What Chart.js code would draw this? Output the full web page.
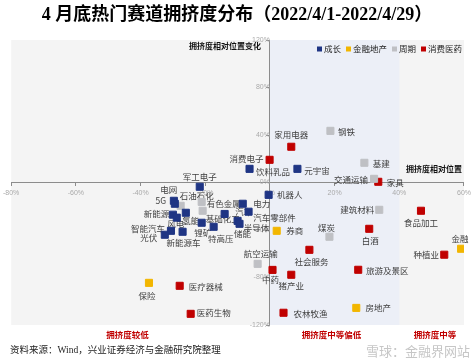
<!DOCTYPE html>
<html>
<head>
<meta charset="utf-8">
<script src="https://cdn.jsdelivr.net/npm/chart.js@4"></script>
<style>
  html, body { margin: 0; padding: 0; background: #fff; }
  #wrap { width: 474px; height: 362px; }
</style>
</head>
<body>
<div id="wrap"><canvas id="crowdChart"></canvas></div>
<script>
// 成长
const growthNames = ['元宇宙', '饮料乳品', '机器人', '军工电子', '电网', '5G', '新能源', '风电', '氢能', '锂矿',
    '特高压', '汽车', '半导体', '储能', '电力', '汽车零部件', '智能汽车', '光伏', '新能源车'];
const growthX = [8.5, -6.3, -0.4, -21.7, -29.7, -29.4, -30.0, -28.8, -26.0, -21.1,
    -17.4, -14.0, -10.0, -9.4, -8.4, -6.6, -30.6, -32.5, -27.0];
const growthY = [11.5, 11.5, -10.4, -3.6, -15.4, -17.9, -27.1, -29.6, -25.5, -33.9,
    -37.3, -26.5, -32.3, -34.8, -17.9, -24.6, -40.7, -44.0, -41.5];

// 金融地产
const financeNames = ['券商', '金融', '房地产', '保险'];
const financeX = [2.1, 59.1, 26.7, -37.4];
const financeY = [-40.7, -55.8, -105.6, -84.5];

// 周期
const cycleNames = ['钢铁', '基建', '交通运输', '建筑材料', '煤炭', '航空运输', '石油石化', '有色金属', '基础化工'];
const cycleX = [18.7, 29.2, 32.2, 33.8, 18.4, -3.8, -27.6, -21.1, -20.8];
const cycleY = [43.5, 16.6, 3.1, -23.0, -45.7, -68.5, -19.6, -16.3, -23.8];

// 消费医药
const consumerNames = ['家用电器', '消费电子', '家具', '食品加工', '白酒', '种植业', '社会服务', '中药',
    '旅游及景区', '猪产业', '农林牧渔', '医疗器械', '医药生物'];
const consumerX = [6.6, -0.1, 33.5, 46.7, 30.7, 53.9, 12.2, 0.8, 27.3, 6.6, 4.2, -27.9, -24.5];
const consumerY = [30.1, 19.1, 0.6, -23.8, -39.0, -60.8, -56.7, -73.6, -73.5, -77.7, -109.7, -87.0, -110.6];

const xTicks = [-80, -60, -40, -20, 0, 20, 40, 60];
const yTicks = [-120, -80, -40, 0, 40, 80, 120];
const zoneNames = ['拥挤度较低', '拥挤度中等偏低', '拥挤度中等'];
const zoneCenters = [-44, 19, 51];

// label placement (pixel offset from the marker centre)
const labelOffset = {
    '元宇宙': [19.5, 2], '饮料乳品': [23.5, 3], '机器人': [21, 0], '军工电子': [0, -10],
    '电网': [-5, -11], '5G': [-14, -3], '新能源': [-16.5, -1], '风电': [-1, 6], '氢能': [5, 8],
    '锂矿': [1, 10], '特高压': [7, 12], '汽车': [19, -2], '半导体': [19, 7], '储能': [3, 10],
    '电力': [19, 0], '汽车零部件': [26, 6], '智能汽车': [-23, -2], '光伏': [-16, 3], '新能源车': [1, 11],
    '券商': [18, 0], '金融': [-1, -10], '房地产': [22, 0], '保险': [-2, 13],
    '钢铁': [16, 1], '基建': [17, 1], '交通运输': [-23, 1], '建筑材料': [-22, 0], '煤炭': [-3, -9],
    '航空运输': [3, -10], '石油石化': [16, -10], '有色金属': [22, 2], '基础化工': [20, 8],
    '家用电器': [0, -12], '消费电子': [-23, -1], '家具': [17, 1], '食品加工': [0, 12], '白酒': [1, 12],
    '种植业': [-18, 0], '社会服务': [2, 12], '中药': [-2, 10], '旅游及景区': [29, 1], '猪产业': [0, 11],
    '农林牧渔': [27, 1], '医疗器械': [26, 1], '医药生物': [23, -1]
};

const CJK = '"Noto Sans CJK SC", sans-serif';

function toPoints(xs, ys) {
    return xs.map((x, i) => ({ x: x, y: ys[i] }));
}

function series(label, names, xs, ys, color) {
    return {
        label: label,
        names: names,
        data: toPoints(xs, ys),
        pointStyle: 'rect',
        pointRadius: 5,
        pointHoverRadius: 5,
        backgroundColor: color,
        borderColor: color,
        borderWidth: 1
    };
}

// plot background with the blue 0%~40% band
const bandPlugin = {
    id: 'bands',
    beforeDraw(chart) {
        const { ctx, chartArea, scales } = chart;
        ctx.save();
        ctx.fillStyle = '#f4f4f4';
        ctx.fillRect(chartArea.left, chartArea.top, chartArea.width, chartArea.height);
        const x0 = scales.x.getPixelForValue(0);
        const x1 = scales.x.getPixelForValue(40);
        ctx.fillStyle = '#eceff7';
        ctx.fillRect(x0, chartArea.top, x1 - x0, chartArea.height);
        ctx.restore();
    }
};

// category names next to the markers
const pointLabelPlugin = {
    id: 'pointLabels',
    beforeDatasetsDraw(chart) {
        const ctx = chart.ctx;
        ctx.save();
        ctx.font = '8.5px ' + CJK;
        ctx.fillStyle = '#404040';
        ctx.textAlign = 'center';
        ctx.textBaseline = 'middle';
        chart.data.datasets.forEach((ds, i) => {
            chart.getDatasetMeta(i).data.forEach((pt, j) => {
                const name = ds.names[j];
                const off = labelOffset[name] || [0, -10];
                ctx.fillText(name, pt.x + off[0], pt.y + off[1]);
            });
        });
        ctx.restore();
    }
};

// axis titles, legend, zone captions, watermark
const notePlugin = {
    id: 'notes',
    afterDraw(chart) {
        const { ctx, chartArea, scales } = chart;
        const xAxisY = scales.y.getPixelForValue(0);
        const yAxisX = scales.x.getPixelForValue(0);
        ctx.save();
        ctx.font = 'bold 8px ' + CJK;
        ctx.fillStyle = '#111';
        ctx.textAlign = 'right';
        ctx.textBaseline = 'middle';
        ctx.fillText('拥挤度相对位置变化', yAxisX - 9, chartArea.top + 6);
        ctx.fillText('拥挤度相对位置', chartArea.right - 2, xAxisY - 14);

        // legend, right aligned in the top of the plot
        ctx.font = '8.5px ' + CJK;
        ctx.textAlign = 'left';
        const box = 5, gap = 2, space = 5;
        const items = chart.data.datasets.map(ds => ({ text: ds.label, color: ds.backgroundColor }));
        let total = 0;
        items.forEach((it, i) => {
            it.w = ctx.measureText(it.text).width;
            total += box + gap + it.w + (i ? space : 0);
        });
        let lx = chartArea.right - 2 - total;
        const ly = chartArea.top + 9;
        items.forEach(it => {
            ctx.fillStyle = it.color;
            ctx.fillRect(lx, ly - box / 2, box, box);
            ctx.fillStyle = '#222';
            ctx.fillText(it.text, lx + box + gap, ly);
            lx += box + gap + it.w + space;
        });

        ctx.font = 'bold 8.5px ' + CJK;
        ctx.fillStyle = '#c00000';
        ctx.textAlign = 'center';
        zoneNames.forEach((t, i) => {
            ctx.fillText(t, scales.x.getPixelForValue(zoneCenters[i]), chartArea.bottom + 10);
        });

        ctx.font = '13px ' + CJK;
        ctx.fillStyle = '#c6c6c6';
        ctx.textAlign = 'right';
        ctx.fillText('雪球：金融界网站', 470, 351);
        ctx.restore();
    }
};

const axisColor = '#8c8c8c';
const tickFont = { size: 7, family: '"Liberation Sans", sans-serif' };

new Chart(document.getElementById('crowdChart'), {
    type: 'scatter',
    data: {
        datasets: [
            series('成长', growthNames, growthX, growthY, '#1f3584'),
            series('金融地产', financeNames, financeX, financeY, '#f2b600'),
            series('周期', cycleNames, cycleX, cycleY, '#bfc0c4'),
            series('消费医药', consumerNames, consumerX, consumerY, '#c00000')
        ]
    },
    options: {
        responsive: true,
        maintainAspectRatio: false,
        animation: false,
        layout: { padding: { left: 10, right: 10, top: 0, bottom: 0 } },
        scales: {
            x: {
                type: 'linear',
                min: -80,
                max: 60,
                position: { y: 0 },
                afterBuildTicks: axis => { axis.ticks = xTicks.map(v => ({ value: v })); },
                grid: { drawOnChartArea: false, drawTicks: true, tickLength: 3, color: axisColor },
                border: { display: true, color: axisColor, width: 1 },
                ticks: { color: '#aaaaaa', font: tickFont, padding: 3, callback: v => v + '%' }
            },
            y: {
                type: 'linear',
                min: -120,
                max: 120,
                position: { x: 0 },
                afterBuildTicks: axis => { axis.ticks = yTicks.map(v => ({ value: v })); },
                grid: { drawOnChartArea: false, drawTicks: true, tickLength: 3, color: axisColor },
                border: { display: true, color: axisColor, width: 1 },
                ticks: { color: '#aaaaaa', font: tickFont, padding: 3, callback: v => v + '%' }
            }
        },
        plugins: {
            title: {
                display: true,
                text: '4 月底热门赛道拥挤度分布（2022/4/1-2022/4/29）',
                color: '#000',
                font: { size: 18, weight: 'bold', family: '"Liberation Serif", "Noto Sans CJK SC", serif' },
                padding: { top: 5, bottom: 13.4 }
            },
            subtitle: {
                display: true,
                position: 'bottom',
                align: 'start',
                text: '资料来源：Wind，兴业证券经济与金融研究院整理',
                color: '#222',
                font: { size: 9.5, family: '"Liberation Serif", "Noto Sans CJK SC", serif' },
                padding: { top: 20, bottom: 5.6 }
            },
            legend: { display: false },
            tooltip: { enabled: false }
        }
    },
    plugins: [bandPlugin, pointLabelPlugin, notePlugin]
});
</script>
</body>
</html>
